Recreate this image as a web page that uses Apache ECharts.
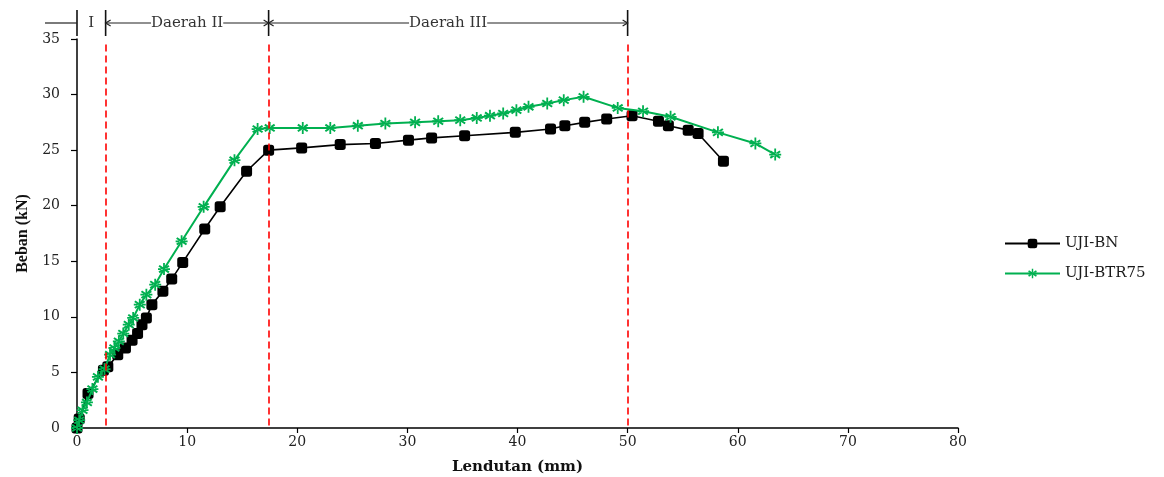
<!DOCTYPE html>
<html>
<head>
<meta charset="utf-8">
<script src="https://cdn.jsdelivr.net/npm/echarts@6/dist/echarts.min.js"></script>
<style>
html,body{margin:0;padding:0;background:#fff;}
#c{width:1164px;height:477px;}
</style>
</head>
<body>
<div id="c"></div>
<script>
// ---- data ----
const bnX = [0, 0.2, 1.0, 2.4, 2.8, 3.7, 4.4, 5.0, 5.5, 5.9, 6.3, 6.8, 7.8, 8.6, 9.6, 11.6, 13.0, 15.4, 17.4, 20.4, 23.9, 27.1, 30.1, 32.2, 35.2, 39.8, 43.0, 44.3, 46.1, 48.1, 50.4, 52.8, 53.7, 55.5, 56.4, 58.7];
const bnY = [0, 0.8, 3.1, 5.2, 5.5, 6.6, 7.2, 7.9, 8.5, 9.3, 9.9, 11.1, 12.3, 13.4, 14.9, 17.9, 19.9, 23.1, 25.0, 25.2, 25.5, 25.6, 25.9, 26.1, 26.3, 26.6, 26.9, 27.2, 27.5, 27.8, 28.1, 27.6, 27.2, 26.8, 26.5, 24.0];
const btrX = [0, 0.2, 0.5, 0.9, 1.4, 1.9, 2.5, 3.0, 3.4, 3.8, 4.2, 4.7, 5.1, 5.7, 6.3, 7.1, 7.9, 9.5, 11.5, 14.3, 16.4, 17.5, 20.5, 23.0, 25.5, 28.0, 30.7, 32.8, 34.8, 36.3, 37.5, 38.7, 39.9, 41.0, 42.7, 44.2, 46.0, 49.1, 51.4, 53.9, 58.2, 61.6, 63.4];
const btrY = [0, 0.7, 1.6, 2.3, 3.5, 4.6, 5.3, 6.6, 7.2, 7.8, 8.5, 9.3, 9.9, 11.1, 12.0, 12.9, 14.3, 16.8, 19.9, 24.1, 26.9, 27.0, 27.0, 27.0, 27.2, 27.4, 27.5, 27.6, 27.7, 27.9, 28.1, 28.3, 28.6, 28.9, 29.2, 29.5, 29.8, 28.8, 28.5, 28.0, 26.6, 25.6, 24.6];
const seriesNames = ['UJI-BN', 'UJI-BTR75'];
const regionBounds = [0, 2.6, 17.4, 50];
const regionLabels = ['I', 'Daerah II', 'Daerah III'];
const regionLineTop = 34.5; // load value where the red region lines begin
const xTicks = {min: 0, max: 80, interval: 10};
const yTicks = {min: 0, max: 35, interval: 5};

const pair = (xs, ys) => xs.map((x, i) => [x, ys[i]]);
const FONT = '"Liberation Serif", "Times New Roman", serif';
const WFONT = '"DejaVu Serif", "Liberation Serif", serif';
const starPath = 'path://M8.5,0 L11.5,0 L11.5,20 L8.5,20 Z M0.8,5.8 L2.8,3.2 L19.2,14.2 L17.2,16.8 Z M0.8,14.2 L2.8,16.8 L19.2,5.8 L17.2,3.2 Z M0,8.5 L20,8.5 L20,11.5 L0,11.5 Z';

const chart = echarts.init(document.getElementById('c'), null, {renderer: 'canvas'});
chart.setOption({
  animation: false,
  backgroundColor: '#fff',
  grid: {left: 77, right: 206, top: 39, bottom: 49, containLabel: false, outerBoundsMode: 'none'},
  legend: {
    orient: 'vertical', left: 1004, top: 236, padding: 0, itemWidth: 55, itemHeight: 12, itemGap: 15,
    textStyle: {fontFamily: WFONT, fontSize: 15, color: '#1a1a1a'},
    data: seriesNames
  },
  xAxis: {
    type: 'value', min: xTicks.min, max: xTicks.max, interval: xTicks.interval,
    name: 'Lendutan (mm)', nameLocation: 'middle', nameGap: 32,
    nameTextStyle: {fontFamily: WFONT, fontSize: 15, fontWeight: 'bold', color: '#111'},
    axisLine: {show: true, lineStyle: {color: '#000', width: 1.5}},
    axisTick: {show: true, length: 5, inside: false, lineStyle: {color: '#000', width: 1.2}},
    axisLabel: {fontFamily: WFONT, fontSize: 14, color: '#222', margin: 7},
    splitLine: {show: false}
  },
  yAxis: {
    type: 'value', min: yTicks.min, max: yTicks.max, interval: yTicks.interval,
    name: 'Beban (kN)', nameLocation: 'middle', nameGap: 42,
    nameTextStyle: {fontFamily: FONT, fontSize: 16, fontWeight: 'bold', color: '#111'},
    axisLine: {show: true, lineStyle: {color: '#000', width: 1.5}},
    axisTick: {show: true, length: 6, inside: false, lineStyle: {color: '#000', width: 1.2}},
    axisLabel: {fontFamily: WFONT, fontSize: 14, color: '#222', margin: 17},
    splitLine: {show: false}
  },
  series: [
    {
      name: seriesNames[0], type: 'line', data: pair(bnX, bnY),
      symbol: 'roundRect', symbolSize: 11,
      lineStyle: {color: '#000', width: 1.6},
      itemStyle: {color: '#000'},
      z: 3,
      markLine: {
        silent: true, symbol: 'none', label: {show: false},
        lineStyle: {color: '#ff0000', type: [7, 4], width: 1.6},
        data: regionBounds.slice(1).map(v => [{coord: [v, regionLineTop]}, {coord: [v, 0]}])
      }
    },
    {
      name: seriesNames[1], type: 'line', data: pair(btrX, btrY),
      symbol: starPath, symbolSize: 12,
      lineStyle: {color: '#00b050', width: 2},
      itemStyle: {color: '#00b050'},
      z: 4
    }
  ]
});

// top annotation for regions
const px = v => chart.convertToPixel({xAxisIndex: 0}, v);
const yLine = 23, yTop = 10, yBot = 36;
const g = [];
const stroke = {stroke: '#222', lineWidth: 1.2};
regionBounds.forEach(v => {
  const x = px(v);
  g.push({type: 'line', shape: {x1: x, y1: yTop, x2: x, y2: yBot}, style: {stroke: '#111', lineWidth: 1.6}});
});
// small lead line left of region I
g.push({type: 'line', shape: {x1: px(0) - 32, y1: yLine, x2: px(0), y2: yLine}, style: stroke});
// region lines with arrows (II and III)
for (let i = 1; i < regionBounds.length - 1; i++) {
  const a = px(regionBounds[i]), b = px(regionBounds[i + 1]);
  g.push({type: 'line', shape: {x1: a, y1: yLine, x2: b, y2: yLine}, style: stroke});
  g.push({type: 'polyline', shape: {points: [[a + 5, yLine - 3], [a, yLine], [a + 5, yLine + 3]]}, style: Object.assign({fill: null}, stroke)});
  g.push({type: 'polyline', shape: {points: [[b - 5, yLine - 3], [b, yLine], [b - 5, yLine + 3]]}, style: Object.assign({fill: null}, stroke)});
}
regionLabels.forEach((t, i) => {
  const cx = (px(regionBounds[i]) + px(regionBounds[i + 1])) / 2;
  g.push({
    type: 'text', x: cx, y: yLine, z: 10,
    style: {text: t, fontFamily: WFONT, fontSize: 15, fill: '#333', align: 'center', verticalAlign: 'middle',
            backgroundColor: '#fff', padding: [0, 0]}
  });
});
chart.setOption({graphic: g});
</script>
</body>
</html>
